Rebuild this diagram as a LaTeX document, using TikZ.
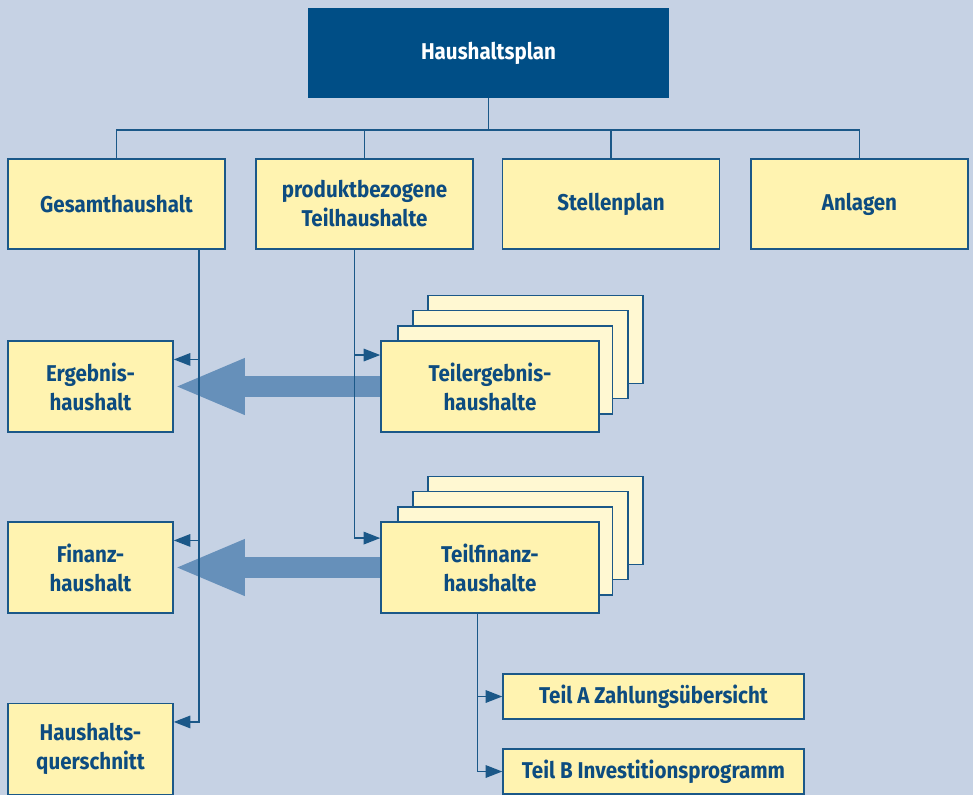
\documentclass[tikz,border=0pt]{standalone}
\usepackage{fontspec}
\setmainfont{Fira Sans}[FakeStretch=0.9]
\usetikzlibrary{arrows.meta}
\definecolor{bg}{HTML}{C6D2E4}
\definecolor{plancol}{HTML}{004E86}
\definecolor{boxcol}{HTML}{FFF3B0}
\definecolor{backcol}{HTML}{FFF8D2}
\definecolor{rim}{HTML}{1B5888}
\definecolor{ink}{HTML}{0D4C80}
\definecolor{flow}{HTML}{6690BA}
\tikzset{every node/.style={font=\bfseries\fontsize{13}{16.5}\selectfont, align=center, inner sep=0pt},
         planbox/.style={fill=plancol, text=white, minimum width=7.22cm, minimum height=1.8cm},
         mainbox/.style={draw=rim, line width=0.9pt, fill=boxcol, text=ink, minimum width=4.34cm, minimum height=1.8cm},
         leftbox/.style={mainbox, minimum width=3.3cm, minimum height=1.82cm},
         stackbox/.style={mainbox, minimum width=4.36cm, minimum height=1.82cm},
         stackback/.style={mainbox, fill=backcol, minimum width=4.3cm, minimum height=1.76cm},
         partbox/.style={mainbox, minimum width=6.02cm, minimum height=0.9cm},
         tree/.style={draw=rim, line width=0.8pt},
         thinarrow/.style={draw=rim, line width=0.8pt, -{Triangle[length=0.33cm,width=0.25cm]}},
         bigarrow/.style={draw=flow, line width=0.42cm, -{Triangle[length=1.42cm,width=1.02cm]}},
        }
\begin{document}
\begin{tikzpicture}[x=0.02cm,y=-0.02cm]
        \fill[bg](0,0)rectangle(973,795);

        \node[planbox](plan)at(488.5,53){Haushaltsplan};
        \node[mainbox](gesamt)at(116.5,204){Gesamthaushalt};
        \node[mainbox](teil)at(364.5,204){produktbezogene\\Teilhaushalte};
        \node[mainbox](stellen)at(611,204){Stellenplan};
        \node[mainbox](anlagen)at(859.5,204){Anlagen};

        \coordinate(bus)at(488.5,130);
        \draw[tree](plan.south)--(bus);
        \draw[tree](gesamt.north)--(gesamt.north|-bus)--(anlagen.north|-bus)--(anlagen.north);
        \draw[tree](teil.north)--(teil.north|-bus);
        \draw[tree](stellen.north)--(stellen.north|-bus);

        \node[leftbox](ergebnis)at(90.5,386.5){Ergebnis-\\haushalt};
        \node[leftbox](finanz)at(90.5,567.5){Finanz-\\haushalt};
        \node[leftbox](quer)at(90.5,749){Haushalts-\\querschnitt};

        \foreach \k in {3,2,1}{
            \node[stackback](tergebnis\k)at(490+15.2*\k,385-15.2*\k){};
            \node[stackback](tfinanz\k)at(490+15.2*\k,566-15.2*\k){};
        }
        \node[stackbox](tergebnis)at(490,386.5){Teilergebnis-\\haushalte};
        \node[stackbox](tfinanz)at(490,567.5){Teilfinanz-\\haushalte};

        \node[partbox](teila)at(653.5,696.5){Teil A Zahlungsübersicht};
        \node[partbox](teilb)at(653.5,771.5){Teil B Investitionsprogramm};

        \draw[bigarrow](tergebnis.west)--(ergebnis.east);
        \draw[bigarrow](tfinanz.west)--(finanz.east);

        \draw[thinarrow](gesamt.331)|-(ergebnis.18);
        \draw[thinarrow](gesamt.331)|-(finanz.18);
        \draw[thinarrow](gesamt.331)|-(quer.18);
        \draw[thinarrow](teil.258)|-(tergebnis.164);
        \draw[thinarrow](teil.258)|-(tfinanz.165);
        \draw[thinarrow](tfinanz.255)|-(teila.west);
        \draw[thinarrow](tfinanz.255)|-(teilb.west);
    \end{tikzpicture}
\end{document}
